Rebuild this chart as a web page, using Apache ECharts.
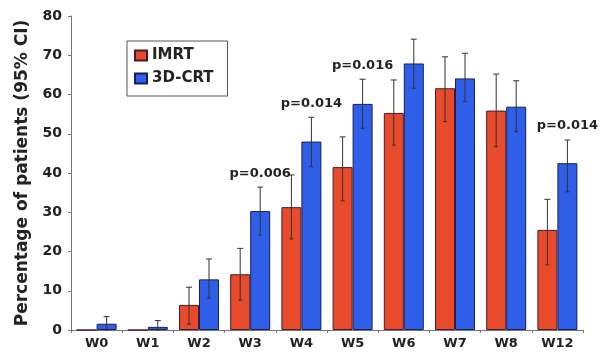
<!DOCTYPE html>
<html>
<head>
<meta charset="utf-8">
<script src="https://cdn.jsdelivr.net/npm/echarts@6/dist/echarts.min.js"></script>
<style>
  html, body { margin: 0; padding: 0; background: #fff; }
  #chart { width: 615px; height: 359px; }
</style>
</head>
<body>
<div id="chart"></div>
<script>
// weeks
const weeks = ['W0', 'W1', 'W2', 'W3', 'W4', 'W5', 'W6', 'W7', 'W8', 'W12'];

// IMRT: percentage + 95% CI
const imrt     = [0, 0, 6.4, 14.2, 31.3, 41.5, 55.3, 61.6, 55.9, 25.5];
const imrtLow  = [0, 0, 1.5, 7.6, 23.2, 32.9, 47.1, 53.1, 46.7, 16.6];
const imrtHigh = [0, 0, 10.9, 20.8, 39.5, 49.2, 63.7, 69.6, 65.2, 33.3];

// 3D-CRT: percentage + 95% CI
const crt     = [1.6, 0.8, 12.9, 30.3, 48.0, 57.6, 67.9, 64.1, 56.9, 42.5];
const crtLow  = [0, 0, 8.1, 24.2, 41.6, 51.4, 61.6, 58.2, 50.5, 35.2];
const crtHigh = [3.4, 2.4, 18.1, 36.4, 54.2, 63.9, 74.1, 70.5, 63.5, 48.4];

// p-values shown above the 3D-CRT bars
const pWeeks = ['W3', 'W4', 'W5', 'W12'];
const pTexts = ['p=0.006', 'p=0.014', 'p=0.016', 'p=0.014'];

const BAR_W = 20;
const FONT = '"DejaVu Sans", Arial, sans-serif';

function errorSeries(name, low, high, side) {
  return {
    type: 'custom',
    name: name + ' CI',
    silent: true,
    z: 5,
    data: weeks.map((w, i) => [i, low[i], high[i]]),
    renderItem: (params, api) => {
      const lo = api.value(1), hi = api.value(2);
      if (hi <= 0) return null;
      const top = api.coord([api.value(0), hi]);
      const bot = api.coord([api.value(0), lo]);
      const x = top[0] + side * BAR_W / 2;
      const style = { stroke: '#333', lineWidth: 1 };
      return {
        type: 'group',
        children: [
          { type: 'line', shape: { x1: x, y1: top[1], x2: x, y2: bot[1] }, style },
          { type: 'line', shape: { x1: x - 3, y1: top[1], x2: x + 3, y2: top[1] }, style },
          { type: 'line', shape: { x1: x - 2, y1: bot[1], x2: x + 2, y2: bot[1] }, style }
        ]
      };
    }
  };
}

const chart = echarts.init(document.getElementById('chart'));
chart.setOption({
  animation: false,
  textStyle: { fontFamily: FONT },
  grid: { left: 71, right: 32, top: 16, bottom: 29 },
  legend: {
    orient: 'vertical',
    left: 127,
    top: 41,
    padding: [7, 14, 10, 7],
    borderColor: '#555',
    borderWidth: 1,
    itemWidth: 12,
    itemHeight: 10,
    itemGap: 8,
    itemTextGap: 8,
    icon: 'rect',
    data: ['IMRT', '3D-CRT'],
    textStyle: { fontFamily: FONT, fontWeight: 'bold', fontSize: 15, color: '#222' }
  },
  xAxis: {
    type: 'category',
    data: weeks,
    axisLine: { lineStyle: { color: '#777', width: 1 } },
    axisTick: { show: true, length: 3, lineStyle: { color: '#777' } },
    axisLabel: { fontFamily: FONT, fontWeight: 'bold', fontSize: 13, color: '#222', margin: 7 }
  },
  yAxis: {
    type: 'value',
    min: 0,
    max: 80,
    interval: 10,
    name: 'Percentage of patients (95% CI)',
    nameLocation: 'middle',
    nameGap: 40,
    nameTextStyle: { fontFamily: FONT, fontWeight: 'bold', fontSize: 17, color: '#222' },
    splitLine: { show: false },
    axisLine: { show: true, lineStyle: { color: '#777', width: 1 } },
    axisTick: { show: true, length: 3, lineStyle: { color: '#777' } },
    axisLabel: { fontFamily: FONT, fontWeight: 'bold', fontSize: 14, color: '#222', margin: 9 }
  },
  series: [
    {
      name: 'IMRT',
      type: 'bar',
      data: imrt,
      barWidth: BAR_W,
      barGap: '0%',
      itemStyle: { color: '#e84a2c', borderColor: '#4a1a2a', borderWidth: 1 }
    },
    {
      name: '3D-CRT',
      type: 'bar',
      data: crt,
      barWidth: BAR_W,
      barGap: '0%',
      itemStyle: { color: '#2f5fe8', borderColor: '#1a1f5a', borderWidth: 1 }
    },
    errorSeries('IMRT', imrtLow, imrtHigh, -1),
    errorSeries('3D-CRT', crtLow, crtHigh, 1),
    {
      type: 'custom',
      name: 'p',
      silent: true,
      z: 6,
      data: pWeeks.map((w, k) => [weeks.indexOf(w), crtHigh[weeks.indexOf(w)], pTexts[k]]),
      renderItem: (params, api) => {
        const pt = api.coord([api.value(0), api.value(1)]);
        return {
          type: 'text',
          style: {
            text: pTexts[params.dataIndex],
            x: pt[0] + BAR_W / 2,
            y: pt[1] - 14,
            align: 'center',
            verticalAlign: 'middle',
            font: 'bold 13px ' + FONT,
            fill: '#222'
          }
        };
      }
    }
  ]
});
</script>
</body>
</html>
